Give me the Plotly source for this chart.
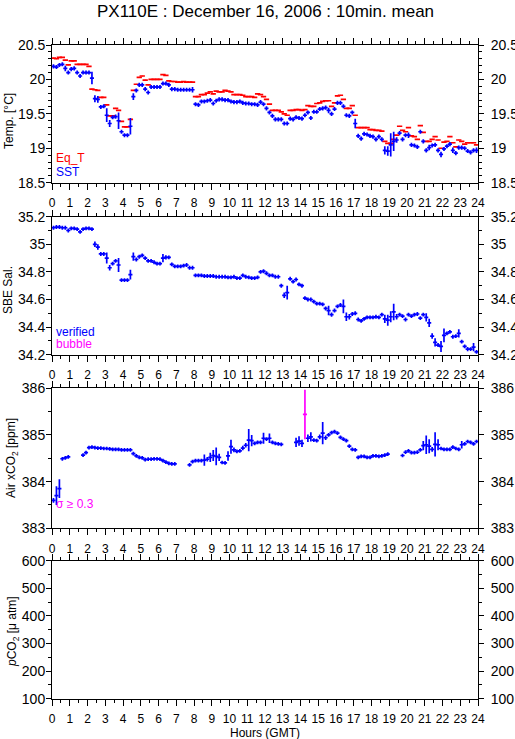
import plotly.graph_objects as go

# ---------------- data (10-min means, slot centers in hours) ----------------
HOURS = [round((k + 0.5) / 6, 4) for k in range(144)]

EQ_T = [
    20.31, 20.30, 20.32, 20.32, 20.28, 20.21,
    20.27, 20.27, 20.22, 20.22, 20.22, 20.22,
    20.19, 19.86, 19.85, 19.84, 19.74, 19.74,
    19.63, 19.47, 19.47, 19.58, 19.55, 19.39,
    19.31, 19.31, 19.42, 19.84, 19.93, 20.03,
    20.05, 19.99, 19.92, 20.00, 20.00, 20.00,
    20.00, 20.07, 20.06, 19.98, 19.97, 19.97,
    19.96, 19.96, 19.97, 19.96, 19.96, 19.96,
    19.75, 19.75, 19.78, 19.78, 19.80, 19.82,
    19.79, 19.83, 19.82, 19.82, 19.84, 19.83,
    19.82, 19.78, 19.78, 19.78, 19.77, 19.75,
    19.75, 19.75, 19.74, 19.79, 19.78, 19.75,
    19.71, 19.64, 19.55, 19.55, 19.55, 19.53,
    19.50, 19.48, 19.55, 19.55, 19.56, 19.56,
    19.55, 19.56, 19.62, 19.61, 19.61, 19.65,
    19.66, 19.68, 19.69, 19.69, 19.61, 19.66,
    19.76, 19.77, 19.71, 19.58, 19.58, 19.62,
    19.48, 19.30, 19.30, 19.30, 19.30, 19.27,
    19.27, 19.26, 19.26, 19.25, 19.10, 19.07,
    19.07, 19.13, 19.19, 19.32, 19.26, 19.24,
    19.30, 19.18, 19.17, 19.13, 19.33, 19.23,
    19.10, 19.10, 19.13, 19.17, 19.12, 19.00,
    19.09, 19.10, 19.17, 19.08, 19.02, 19.12,
    19.10, 19.06, 19.08, 19.08, 19.08, 19.05,
]

SST = [
    20.19, 20.18, 20.21, 20.22, 20.16, 20.10,
    20.15, 20.16, 20.10, 20.05, 20.10, 20.10,
    20.10, 20.02, 19.72, 19.71, 19.60, 19.61,
    19.48, 19.36, 19.45, 19.46, 19.40, 19.24,
    19.19, 19.19, 19.32, 19.75, 19.84, 19.92,
    19.92, 19.86, 19.81, 19.89, 19.89, 19.89,
    19.89, 19.94, 19.94, 19.92, 19.86, 19.86,
    19.85, 19.85, 19.85, 19.85, 19.85, 19.85,
    19.64, 19.63, 19.68, 19.68, 19.69, 19.70,
    19.65, 19.69, 19.71, 19.71, 19.70, 19.70,
    19.68, 19.67, 19.67, 19.68, 19.66, 19.65,
    19.65, 19.64, 19.64, 19.63, 19.67, 19.64,
    19.58, 19.52, 19.47, 19.42, 19.42, 19.42,
    19.36, 19.36, 19.43, 19.42, 19.45, 19.44,
    19.43, 19.48, 19.52, 19.44, 19.53, 19.53,
    19.57, 19.58, 19.59, 19.55, 19.50, 19.57,
    19.66, 19.66, 19.61, 19.48, 19.47, 19.52,
    19.36, 19.18, 19.14, 19.21, 19.20, 19.18,
    19.17, 19.13, 19.17, 19.13, 18.97, 18.96,
    19.05, 19.10, 19.12, 19.22, 19.13, 19.19,
    19.19, 19.05, 19.04, 19.02, 19.24, 19.10,
    18.97, 19.01, 19.04, 19.05, 18.97, 18.91,
    18.99, 19.03, 19.06, 18.97, 18.93, 19.01,
    19.01, 19.00, 18.96, 18.94, 18.97, 18.97,
]

SST_SD = [
    0.03, 0.03, 0.03, 0.03, 0.04, 0.03,
    0.03, 0.03, 0.03, 0.03, 0.03, 0.03,
    0.03, 0.09, 0.05, 0.05, 0.03, 0.03,
    0.10, 0.05, 0.03, 0.03, 0.12, 0.03,
    0.03, 0.03, 0.12, 0.05, 0.03, 0.03,
    0.03, 0.03, 0.03, 0.03, 0.03, 0.03,
    0.03, 0.03, 0.03, 0.03, 0.03, 0.03,
    0.03, 0.03, 0.03, 0.03, 0.03, 0.04,
    0.03, 0.03, 0.03, 0.03, 0.03, 0.03,
    0.03, 0.03, 0.03, 0.03, 0.03, 0.03,
    0.03, 0.03, 0.03, 0.03, 0.03, 0.03,
    0.03, 0.03, 0.03, 0.03, 0.03, 0.03,
    0.03, 0.03, 0.03, 0.03, 0.03, 0.03,
    0.03, 0.03, 0.03, 0.03, 0.03, 0.03,
    0.03, 0.03, 0.03, 0.03, 0.03, 0.03,
    0.03, 0.03, 0.03, 0.04, 0.03, 0.03,
    0.03, 0.03, 0.03, 0.03, 0.03, 0.03,
    0.07, 0.03, 0.03, 0.03, 0.03, 0.03,
    0.03, 0.03, 0.03, 0.03, 0.06, 0.07,
    0.17, 0.14, 0.04, 0.03, 0.03, 0.03,
    0.04, 0.03, 0.03, 0.03, 0.03, 0.03,
    0.03, 0.04, 0.03, 0.03, 0.03, 0.04,
    0.03, 0.03, 0.03, 0.04, 0.03, 0.03,
    0.03, 0.03, 0.03, 0.03, 0.03, 0.04,
]

SAL = [
    35.120, 35.125, 35.125, 35.120, 35.120, 35.100,
    35.115, 35.115, 35.110, 35.090, 35.110, 35.115,
    35.115, 35.110, 35.000, 34.980, 34.930, 34.930,
    34.900, 34.830, 34.860, 34.880, 34.850, 34.740,
    34.740, 34.740, 34.780, 34.910, 34.890, 34.910,
    34.920, 34.900, 34.880, 34.880, 34.870, 34.860,
    34.860, 34.900, 34.905, 34.905, 34.855, 34.840,
    34.840, 34.840, 34.845, 34.850, 34.830, 34.830,
    34.775, 34.775, 34.775, 34.770, 34.770, 34.770,
    34.770, 34.765, 34.765, 34.765, 34.765, 34.760,
    34.760, 34.765, 34.755, 34.755, 34.775, 34.765,
    34.760, 34.755, 34.755, 34.760, 34.800, 34.805,
    34.790, 34.775, 34.775, 34.765, 34.765, 34.700,
    34.630, 34.650, 34.750, 34.730, 34.745, 34.710,
    34.700, 34.610, 34.600, 34.600, 34.585, 34.570,
    34.570, 34.565, 34.535, 34.520, 34.490, 34.520,
    34.550, 34.560, 34.550, 34.475, 34.475, 34.495,
    34.500, 34.455, 34.445, 34.460, 34.470, 34.470,
    34.470, 34.475, 34.470, 34.490, 34.460, 34.450,
    34.475, 34.510, 34.475, 34.490, 34.480, 34.455,
    34.490, 34.480, 34.490, 34.495, 34.465, 34.490,
    34.470, 34.430, 34.335, 34.290, 34.270, 34.260,
    34.340, 34.355, 34.365, 34.330, 34.335, 34.355,
    34.295, 34.260, 34.240, 34.240, 34.255, 34.220,
]

SAL_SD = [
    0.014, 0.014, 0.014, 0.014, 0.014, 0.014,
    0.014, 0.014, 0.014, 0.014, 0.014, 0.014,
    0.014, 0.014, 0.020, 0.020, 0.014, 0.014,
    0.040, 0.020, 0.014, 0.014, 0.050, 0.014,
    0.014, 0.014, 0.035, 0.030, 0.014, 0.014,
    0.014, 0.014, 0.014, 0.014, 0.014, 0.014,
    0.014, 0.030, 0.015, 0.014, 0.014, 0.014,
    0.014, 0.014, 0.014, 0.014, 0.014, 0.014,
    0.014, 0.014, 0.014, 0.014, 0.014, 0.014,
    0.014, 0.014, 0.014, 0.014, 0.014, 0.014,
    0.014, 0.014, 0.014, 0.014, 0.014, 0.014,
    0.014, 0.014, 0.014, 0.014, 0.014, 0.014,
    0.014, 0.014, 0.014, 0.014, 0.014, 0.014,
    0.020, 0.050, 0.015, 0.014, 0.014, 0.014,
    0.014, 0.014, 0.014, 0.014, 0.014, 0.014,
    0.014, 0.014, 0.014, 0.035, 0.015, 0.014,
    0.014, 0.014, 0.050, 0.030, 0.020, 0.014,
    0.014, 0.014, 0.014, 0.014, 0.014, 0.014,
    0.014, 0.014, 0.014, 0.014, 0.030, 0.040,
    0.040, 0.060, 0.020, 0.014, 0.014, 0.014,
    0.014, 0.014, 0.014, 0.014, 0.014, 0.014,
    0.030, 0.030, 0.020, 0.030, 0.014, 0.040,
    0.050, 0.014, 0.014, 0.014, 0.014, 0.030,
    0.014, 0.014, 0.015, 0.014, 0.030, 0.014,
]

N = None
AIR_CO2 = [
    383.60, 383.70, 383.85, 384.49, 384.51, 384.53,
    N, N, N, N, 384.57, 384.62,
    384.73, 384.74, 384.73, 384.72, 384.72, 384.71,
    384.71, 384.70, 384.69, 384.69, 384.69, 384.68,
    384.68, 384.68, 384.68, 384.60, 384.55, 384.52,
    384.51, 384.47, 384.48, 384.48, 384.49, 384.49,
    384.48, 384.45, 384.42, 384.39, 384.38, 384.38,
    N, N, N, N, 384.36, 384.43,
    384.45, 384.45, 384.45, 384.46, 384.48, 384.52,
    384.56, 384.54, 384.52, 384.41, 384.40, 384.55,
    384.75, 384.68, 384.65, 384.66, 384.72, 384.78,
    384.89, 384.88, 384.82, 384.84, 384.84, 384.93,
    384.91, 384.93, 384.84, 384.82, 384.81, 384.80,
    N, N, N, N, 384.84, 384.87,
    384.82, N, 384.93, 384.96, 384.89, 384.88,
    384.96, 385.04, 384.94, 385.00, 385.05, 385.07,
    385.04, 384.95, 384.91, 384.88, 384.76, 384.69,
    384.68, 384.52, 384.54, 384.54, 384.52, 384.52,
    384.55, 384.55, 384.54, 384.55, 384.57, 384.59,
    N, N, N, N, 384.56, 384.63,
    384.66, 384.62, 384.62, 384.63, 384.68, 384.77,
    384.79, 384.76, 384.69, 384.80, 384.79, 384.71,
    384.69, 384.69, 384.69, 384.74, 384.71, 384.69,
    384.79, 384.81, 384.86, 384.84, 384.81, 384.86,
]

AIR_CO2_SD = [
    0.05, 0.20, 0.20, 0.04, 0.04, 0.04,
    N, N, N, N, 0.04, 0.04,
    0.04, 0.04, 0.04, 0.04, 0.04, 0.04,
    0.04, 0.04, 0.04, 0.04, 0.04, 0.04,
    0.04, 0.04, 0.04, 0.04, 0.04, 0.04,
    0.04, 0.04, 0.04, 0.04, 0.04, 0.04,
    0.04, 0.04, 0.04, 0.04, 0.04, 0.04,
    N, N, N, N, 0.04, 0.04,
    0.04, 0.04, 0.04, 0.12, 0.05, 0.10,
    0.12, 0.19, 0.08, 0.04, 0.04, 0.10,
    0.15, 0.05, 0.04, 0.04, 0.05, 0.05,
    0.24, 0.12, 0.04, 0.04, 0.04, 0.12,
    0.04, 0.10, 0.04, 0.04, 0.04, 0.04,
    N, N, N, N, 0.10, 0.10,
    0.08, N, 0.08, 0.10, 0.04, 0.04,
    0.05, 0.24, 0.05, 0.04, 0.04, 0.04,
    0.04, 0.04, 0.04, 0.04, 0.04, 0.04,
    0.04, 0.04, 0.04, 0.04, 0.04, 0.04,
    0.04, 0.04, 0.04, 0.04, 0.04, 0.04,
    N, N, N, N, 0.04, 0.04,
    0.04, 0.04, 0.04, 0.04, 0.04, 0.10,
    0.20, 0.15, 0.05, 0.26, 0.12, 0.04,
    0.04, 0.04, 0.04, 0.04, 0.04, 0.04,
    0.08, 0.04, 0.04, 0.04, 0.04, 0.04,
]

# sigma >= 0.3 (bubble-flagged) air sample
CO2_FLAG_HOURS = [14.25]
CO2_FLAG_VAL = [385.44]
CO2_FLAG_SD = [0.53]

TITLE = "PX110E : December 16, 2006 : 10min. mean"
X_TITLE = "Hours (GMT)"
Y_TITLES = ["Temp. [°C]", "SBE Sal.", "Air xCO<sub>2</sub> [ppm]", "<i>p</i>CO<sub>2</sub> [μ atm]"]
Y_RANGES = [[18.5, 20.5], [34.2, 35.2], [383, 386], [100, 600]]
Y_DTICK = [0.5, 0.2, 1, 100]
Y_MINOR = [0.1, 0.1, 0.5, 50]

# ---------------- styling ----------------
BLUE = "#0000ff"
RED = "#ff0000"
MAGENTA = "#ff00ff"
FONT = "Liberation Sans"
W, H = 515, 739
ML, MR, MT, MB = 52, 37, 45, 40
PH = H - MT - MB

def pix_domain(top, bottom):
    return [(H - MB - bottom) / PH, (H - MB - top) / PH]

DOMAINS = [pix_domain(45, 182.7), pix_domain(216.7, 354.7),
           pix_domain(388.3, 528.3), pix_domain(560.7, 698.7)]

fig = go.Figure()

def add_series(x, y, sd, color, panel, xerr, with_y=True):
    fig.add_trace(go.Scatter(
        x=x, y=y, mode="markers",
        marker=dict(size=1, color=color),
        error_x=dict(type="constant", value=xerr, color=color, thickness=1.7, width=0),
        error_y=(dict(type="data", array=sd, color=color, thickness=1.7, width=0)
                 if with_y else dict(visible=False)),
        xaxis="x" if panel == 1 else f"x{panel}",
        yaxis="y" if panel == 1 else f"y{panel}",
        showlegend=False, hoverinfo="skip",
    ))

add_series(HOURS, EQ_T, None, RED, 1, 0.15, with_y=False)
add_series(HOURS, SST, SST_SD, BLUE, 1, 0.115)
add_series(HOURS, SAL, SAL_SD, BLUE, 2, 0.115)
add_series(HOURS, AIR_CO2, AIR_CO2_SD, BLUE, 3, 0.115)
add_series(CO2_FLAG_HOURS, CO2_FLAG_VAL, CO2_FLAG_SD, MAGENTA, 3, 0.115)

# placeholders so that every axis is drawn
fig.add_trace(go.Scatter(x=[None], y=[None], xaxis="x4", yaxis="y4",
                         showlegend=False, hoverinfo="skip"))
for i in range(1, 5):
    fig.add_trace(go.Scatter(x=[None], y=[None], xaxis="x" if i == 1 else f"x{i}",
                             yaxis=f"y{i+4}", showlegend=False, hoverinfo="skip"))

layout = dict(
    width=W, height=H,
    margin=dict(l=ML, r=MR, t=MT, b=MB, autoexpand=False),
    paper_bgcolor="white", plot_bgcolor="white",
    font=dict(family=FONT, size=12, color="black"),
    showlegend=False,
)

for i in range(1, 5):
    xs = "xaxis" if i == 1 else f"xaxis{i}"
    ys = "yaxis" if i == 1 else f"yaxis{i}"
    yname = "y" if i == 1 else f"y{i}"
    xname = "x" if i == 1 else f"x{i}"
    layout[xs] = dict(
        domain=[0, 1], range=[0, 24], anchor=yname, automargin=False,
        tickmode="linear", tick0=0, dtick=1,
        ticks="outside", ticklen=6, tickwidth=1, tickcolor="black",
        minor=dict(ticks="outside", ticklen=3, tick0=0, dtick=0.5, tickcolor="black", tickwidth=1),
        showline=True, linecolor="black", linewidth=1, mirror="ticks",
        showgrid=False, zeroline=False,
        showticklabels=True, tickfont=dict(family=FONT, size=12),
        ticklabelstandoff=3,
    )
    yax = dict(
        domain=DOMAINS[i - 1], range=Y_RANGES[i - 1], anchor=xname, automargin=False,
        tickmode="linear", tick0=Y_RANGES[i - 1][0], dtick=Y_DTICK[i - 1],
        ticks="outside", ticklen=5, tickwidth=1, tickcolor="black",
        minor=dict(ticks="outside", ticklen=3, tick0=Y_RANGES[i - 1][0],
                   dtick=Y_MINOR[i - 1], tickcolor="black", tickwidth=1),
        showline=True, linecolor="black", linewidth=1,
        showgrid=False, zeroline=False,
        tickfont=dict(family=FONT, size=14),
    )
    layout[ys] = dict(yax, side="left", ticklabelstandoff=-2)
    layout[f"yaxis{i+4}"] = dict(yax, side="right", overlaying=yname, ticklabelstandoff=4)

annotations = [
    dict(text=TITLE, x=0.5, y=(H - MB - 12) / PH, xref="paper", yref="paper",
         showarrow=False, font=dict(family=FONT, size=17), xanchor="center", yanchor="middle"),
    dict(text=X_TITLE, x=0.5, y=(H - MB - 733) / PH, xref="paper", yref="paper",
         showarrow=False, font=dict(family=FONT, size=12), xanchor="center", yanchor="middle"),
    dict(text="Eq_T", x=0.12, y=18.86, xref="x", yref="y", showarrow=False,
         font=dict(family=FONT, size=12, color=RED), xanchor="left", yanchor="middle"),
    dict(text="SST", x=0.12, y=18.66, xref="x", yref="y", showarrow=False,
         font=dict(family=FONT, size=12, color=BLUE), xanchor="left", yanchor="middle"),
    dict(text="verified", x=0.12, y=34.364, xref="x2", yref="y2", showarrow=False,
         font=dict(family=FONT, size=12, color=BLUE), xanchor="left", yanchor="middle"),
    dict(text="bubble", x=0.12, y=34.28, xref="x2", yref="y2", showarrow=False,
         font=dict(family=FONT, size=12, color=MAGENTA), xanchor="left", yanchor="middle"),
    dict(text="σ ≥ 0.3", x=0.12, y=383.52, xref="x3", yref="y3", showarrow=False,
         font=dict(family=FONT, size=12, color=MAGENTA), xanchor="left", yanchor="middle"),
]
YT_POS = [(9, 121), (8, 290), (12, 458), (13, 632)]
for t, (px, py) in zip(Y_TITLES, YT_POS):
    annotations.append(dict(
        text=t, x=(px - ML) / (W - ML - MR), y=(H - MB - py) / PH,
        xref="paper", yref="paper", showarrow=False, textangle=-90,
        font=dict(family=FONT, size=12), xanchor="center", yanchor="middle"))
layout["annotations"] = annotations

fig.update_layout(**layout)
fig.write_html(
    "out.html",
    config={"displayModeBar": False},
    post_script="document.body.style.margin='0';document.body.style.padding='0';"
                "document.body.style.overflow='hidden';",
)
